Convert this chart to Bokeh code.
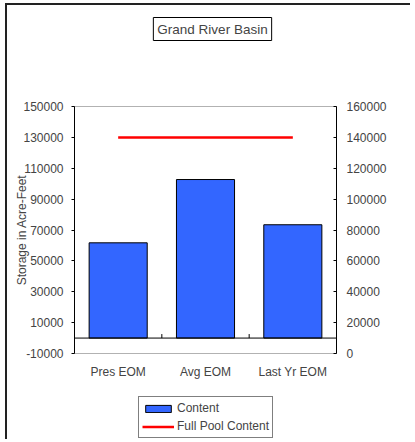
import numpy as np
from bokeh.plotting import figure
from bokeh.models import (Range1d, LinearAxis, FixedTicker, Legend, LegendItem, Label,
                          BoxAnnotation)
from bokeh.embed import file_html
from bokeh.resources import INLINE

# ---- data ----
title_text = "Grand River Basin"
categories = ["Pres EOM", "Avg EOM", "Last Yr EOM"]
content = [61700, 102700, 73400]          # left axis (acre-feet)
full_pool = [140000, 140000, 140000]      # right axis
left_ticks = [-10000, 10000, 30000, 50000, 70000, 90000, 110000, 130000, 150000]
right_ticks = [0, 20000, 40000, 60000, 80000, 100000, 120000, 140000, 160000]
y_label = "Storage in Acre-Feet"
legend_labels = ["Content", "Full Pool Content"]

FONT = "Liberation Sans"
FS = "12px"

# ---- layout (canvas pixels) ----
W, H = 405, 436
PA_L, PA_R, PA_T, PA_B = 67, 329, 101, 348      # plot-area box inside the canvas
n = len(categories)
kx = (PA_R - PA_L) / n                                      # px per category
ky = (PA_B - PA_T) / (left_ticks[-1] - left_ticks[0])       # px per acre-foot

x_range = Range1d(-PA_L / kx, n + (W - PA_R) / kx)
y_range = Range1d(left_ticks[0] - (H - PA_B) / ky, left_ticks[-1] + PA_T / ky)
r_range = Range1d(right_ticks[0] - (H - PA_B) / ky, right_ticks[-1] + PA_T / ky)

def dx(px):
    return x_range.start + px / kx

def dy(py):
    return y_range.end - py / ky

x = list(np.arange(n) + 0.5)
boundaries = list(np.arange(1, n))

p = figure(width=W, height=H, min_border=0, x_range=x_range, y_range=y_range,
           output_backend="svg", toolbar_location=None)
p.extra_y_ranges = {"right": r_range}
p.xgrid.grid_line_color = None
p.ygrid.grid_line_color = None
p.outline_line_color = None
p.background_fill_color = "white"
p.border_fill_color = "white"
p.styles = {"border-left": "2px solid #222", "border-top": "2px solid #222",
            "margin-left": "5px", "margin-top": "3px"}

# plot-area frame
p.add_layout(BoxAnnotation(left=0, right=n, bottom=left_ticks[0], top=left_ticks[-1],
                           fill_color=None, line_color="black", line_width=1))

bars = p.vbar(x=x, top=content, bottom=0, width=0.665,
              fill_color="#3366FF", line_color="black", line_width=1)
pool = p.line(x=x, y=full_pool, y_range_name="right", line_color="#FF0000", line_width=2.5)

# category axis line crossing at zero, with ticks between categories
p.segment(x0=[0], y0=[0], x1=[n], y1=[0], line_color="black", line_width=1)
tick_len = 4 / ky
p.segment(x0=boundaries, y0=[0] * len(boundaries), x1=boundaries,
          y1=[tick_len] * len(boundaries), line_color="black", line_width=1)

# left axis
ya = p.yaxis[0]
ya.fixed_location = 0
ya.bounds = (left_ticks[0], left_ticks[-1])
ya.ticker = FixedTicker(ticks=left_ticks)
ya.major_label_overrides = {t: str(t) for t in left_ticks}
ya.major_tick_out = 3
ya.major_tick_in = 0
ya.minor_tick_line_color = None
ya.major_label_standoff = 8
ya.major_label_text_font = FONT
ya.major_label_text_font_size = FS
ya.axis_label = y_label
ya.axis_label_text_font = FONT
ya.axis_label_text_font_size = FS
ya.axis_label_text_font_style = "normal"
ya.axis_label_standoff = -9
ya.axis_line_color = "black"

# right axis
ra = LinearAxis(y_range_name="right", ticker=FixedTicker(ticks=right_ticks),
                fixed_location=n, bounds=(right_ticks[0], right_ticks[-1]))
ra.major_label_overrides = {t: str(t) for t in right_ticks}
ra.major_tick_out = 0
ra.major_tick_in = 3
ra.minor_tick_line_color = None
ra.major_label_standoff = 10
ra.major_label_text_font = FONT
ra.major_label_text_font_size = FS
p.add_layout(ra, "right")

# category labels
xa = p.xaxis[0]
xa.fixed_location = left_ticks[0]
xa.bounds = (0, n)
xa.ticker = FixedTicker(ticks=x)
xa.major_label_overrides = {float(v): c for v, c in zip(x, categories)}
xa.axis_line_color = None
xa.major_tick_line_color = None
xa.minor_tick_line_color = None
xa.major_label_standoff = 5
xa.major_label_text_font = FONT
xa.major_label_text_font_size = FS

# title box
p.add_layout(Label(x=dx(205), y=dy(23.5), text=title_text,
                   text_align="center", text_baseline="middle",
                   text_font=FONT, text_font_size="13.5px",
                   border_line_color="black", border_line_width=1,
                   background_fill_color="white", padding=4))

legend = Legend(items=[LegendItem(label=legend_labels[0], renderers=[bars]),
                       LegendItem(label=legend_labels[1], renderers=[pool])],
                location=(131, H - 433), orientation="vertical",
                border_line_color="black", border_line_width=1,
                background_fill_color="white", background_fill_alpha=1,
                label_text_font=FONT, label_text_font_size=FS,
                glyph_width=32, glyph_height=9, label_height=16,
                label_standoff=3, padding=3, spacing=2, margin=0)
p.add_layout(legend)

open("out.html", "w").write(file_html(p, INLINE))
